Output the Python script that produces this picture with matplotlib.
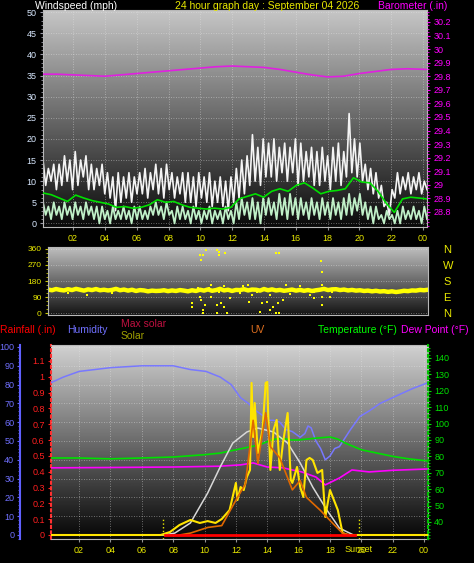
import numpy as np
import matplotlib
matplotlib.use('Agg')
import matplotlib.pyplot as plt
from matplotlib.ticker import MultipleLocator

plt.rcParams['font.family'] = ['Liberation Sans', 'DejaVu Sans']

hour_ticks = [2, 4, 6, 8, 10, 12, 14, 16, 18, 20, 22, 24]
hour_labels = ['02', '04', '06', '08', '10', '12', '14', '16', '18', '20', '22', '00']

# wind (mph), 10 minute readings
gust = [15, 9, 13, 10, 14, 8, 14, 9, 16, 10, 15, 8,
        17, 9, 15, 11, 16, 8, 14, 8, 13, 9, 14, 7,
        12, 6, 11, 3, 12, 5, 11, 6, 12, 5, 11, 7,
        12, 7, 13, 6, 12, 8, 14, 7, 13, 6, 14, 8,
        12, 6, 11, 7, 12, 5, 12, 5, 11, 4, 12, 6,
        11, 5, 12, 4, 10, 5, 11, 4, 10, 3, 11, 5,
        13, 6, 15, 7, 16, 9, 21, 10, 18, 9, 20, 11,
        19, 11, 20, 10, 18, 12, 19, 10, 18, 12, 20, 9,
        19, 10, 17, 11, 18, 9, 17, 9, 18, 10, 16, 8,
        18, 10, 19, 9, 17, 11, 26, 12, 20, 11, 19, 10,
        14, 8, 13, 7, 12, 6, 9, 4, 5, 2, 8, 6,
        12, 7, 11, 8, 12, 7, 11, 8, 12, 7, 10, 8]
speed = [5, 2, 4, 1, 5, 2, 4, 1, 5, 2, 4, 1,
         5, 2, 4, 1, 5, 2, 4, 1, 4, 0, 4, 1,
         3, 0, 4, 1, 3, 1, 4, 1, 3, 0, 4, 1,
         4, 1, 3, 1, 4, 2, 5, 2, 4, 1, 5, 2,
         3, 0, 4, 1, 4, 1, 3, 0, 4, 1, 3, 0,
         3, 1, 4, 0, 3, 1, 3, 0, 4, 1, 3, 0,
         5, 1, 6, 2, 5, 1, 6, 1, 5, 0, 6, 2,
         6, 2, 5, 1, 7, 2, 6, 1, 7, 2, 6, 1,
         6, 2, 5, 1, 6, 2, 5, 1, 6, 2, 5, 1,
         6, 2, 5, 1, 6, 2, 7, 2, 6, 3, 7, 2,
         5, 1, 4, 0, 4, 1, 2, 0, 3, 1, 2, 0,
         3, 0, 4, 1, 3, 1, 4, 1, 3, 0, 4, 1]
avg_wind = [7.2, 6.8, 6.0, 5.2, 6.7, 6.0, 5.4, 5.0, 4.6, 3.8, 4.0, 3.6,
            3.8, 4.4, 5.6, 5.0, 5.2, 4.4, 3.8, 3.6, 3.4, 3.6, 3.4, 3.8,
            5.8, 6.4, 7.0, 6.2, 7.6, 8.2, 7.6, 9.0, 9.6, 8.4, 7.0, 7.6,
            7.8, 8.2, 10.8, 9.8, 9.6, 7.6, 4.8, 2.6, 5.8, 6.2, 6.0, 5.8]
baro_t = [0.11, 1, 2, 3, 4, 5, 6, 7, 8, 9, 10, 11, 12, 13, 14, 15, 16, 17,
          18, 19, 20, 21, 22, 23, 24.25]
baro = [29.815, 29.815, 29.81, 29.805, 29.80, 29.81, 29.82, 29.83, 29.84,
        29.85, 29.86, 29.87, 29.875, 29.87, 29.865, 29.85, 29.83, 29.81,
        29.795, 29.80, 29.82, 29.835, 29.85, 29.855, 29.85]

# wind direction (degrees), 15 minute readings + stray readings
wdir = [132, 128, 135, 130, 127, 134, 129, 136, 131, 126, 133, 129, 135, 128, 131, 127,
        130, 136, 128, 132, 126, 131, 124, 129, 127, 122, 126, 124, 125, 128, 123, 127,
        124, 129, 126, 122, 128, 124, 131, 126, 133, 125, 129, 136, 127, 131, 124, 130,
        129, 134, 127, 132, 131, 126, 135, 128, 133, 127, 130, 125, 128, 132, 126, 130,
        125, 129, 124, 128, 131, 136, 129, 133, 134, 129, 132, 127, 130, 126, 128, 124,
        126, 122, 125, 121, 123, 119, 122, 118, 121, 125, 123, 127, 126, 130, 128, 131]
stray_t = [9.9, 10.0, 10.1, 10.3, 11.0, 11.1, 11.5, 11.1, 14.7, 14.9, 17.5, 17.6,
           17.6, 17.6, 17.6, 18.1, 17.1, 9.4, 9.4, 9.9, 10.0, 10.1, 10.1, 10.2,
           10.6, 11.0, 11.0, 11.2, 11.4, 11.6, 11.8, 11.1, 10.5, 9.8, 12.0, 12.4,
           13.0, 13.7, 13.8, 14.1, 14.3, 14.5, 14.7, 14.9, 14.8, 15.1, 14.3, 13.5,
           2.8, 4.4, 1.6, 18.2, 17.1, 12.6, 13.2, 15.6, 16.2, 16.8, 12.9, 15.3,
           10.6, 11.4]
stray_dir = [326, 298, 326, 354, 354, 343, 337, 326, 337, 337, 292, 230,
             157, 45, 90, 90, 84, 56, 34, 90, 73, 17, 0, 45,
             90, 45, 0, 56, 34, 0, 84, 118, 140, 140, 129, 112,
             62, 6, 56, 62, 17, 34, 0, 0, 56, 73, 101, 118,
             101, 112, 112, 118, 118, 150, 100, 105, 150, 100, 155, 160,
             160, 150]

# humidity (%)
hum_t = [0.2, 1.0, 2.0, 3.0, 4.0, 6.0, 8.0, 9.1, 10.1, 11.0, 11.7, 12.3, 12.8,
         13.3, 13.8, 14.1, 14.4, 14.8, 15.2, 15.6, 16.1, 16.4, 16.6, 16.8, 17.1,
         17.4, 17.7, 18.0, 18.3, 18.6, 19.3, 19.9, 20.5, 21.2, 22.5, 23.3, 24.25]
hum = [81, 84, 87, 88, 89, 90, 90, 88, 87, 84, 80, 73, 70,
       66, 63, 61, 61, 60, 56, 55, 52, 54, 58, 57, 50,
       46, 40, 42, 46, 47, 56, 63, 66, 70, 75, 78, 81]

# temperature and dew point (F)
temp_t = [0.2, 2, 4, 6, 8, 10, 11, 12, 13, 13.5, 14, 14.5, 15, 15.5, 16, 17,
          18, 18.5, 19, 20, 21, 22, 23, 24.25]
temp = [79, 79, 78.5, 79, 79.6, 81, 82, 84, 86, 87, 89, 90.5, 91, 90, 90, 91,
        91.8, 90.5, 88, 84, 82, 80, 78.5, 77.2]
dew_t = [0.2, 4, 8, 11, 12.3, 13.1, 14, 15, 15.6, 16.2, 17.1, 17.7, 18.6, 19.4,
         20.5, 22, 24.25]
dew = [73, 73.2, 73.5, 74, 74.8, 76, 73.5, 73, 71.7, 70.5, 67.4, 62.6, 66.8,
       71.7, 70.5, 71.5, 72.3]

# solar (W/m2), max solar, UV index, rainfall
msol_t = [0.2, 7.4, 8.1, 9.1, 10.2, 11.0, 11.8, 12.7, 13.4, 14.4, 15.3, 16.1,
          16.9, 17.8, 18.6, 19.5, 24.25]
msol = [0, 0, 10, 64, 223, 362, 489, 548, 569, 548, 489, 383, 255, 133, 37, 0, 0]
sol_t = [0.2, 7.2, 7.8, 8.4, 9.1, 9.7, 10.2, 10.7, 11.1, 11.6, 12.0, 12.1, 12.3,
         12.5, 12.7, 12.9, 13.0, 13.1, 13.2, 13.4, 13.7, 13.9, 14.0, 14.05, 14.2,
         14.4, 14.6, 14.8, 15.0, 15.3, 15.5, 15.6, 15.9, 16.1, 16.3, 16.5, 16.7,
         16.9, 17.2, 17.5, 17.7, 18.0, 18.5, 18.8, 19.1, 24.25]
sol = [0, 0, 16, 53, 80, 64, 74, 64, 85, 133, 277, 186, 255,
       239, 309, 346, 809, 521, 702, 436, 559, 809, 814, 665, 346,
       559, 612, 346, 489, 649, 293, 277, 362, 255, 202, 399, 410,
       399, 330, 346, 96, 239, 133, 11, 0, 0]
uv_t = [8.4, 9.1, 10.2, 11.1, 12.1, 12.6, 13.1, 13.4, 13.9, 14.2, 14.8, 15.6,
        16.1, 16.5, 17.4, 18.2, 18.8, 19.3]
uv = [0, 0.1, 0.4, 0.5, 2.0, 2.7, 6.1, 3.8, 6.5, 4.7, 4.1, 2.4, 2.9, 2.0, 1.3,
      0.6, 0.1, 0]
rain_t = [7.5, 19.6]
rain = [0.0, 0.0]
sunrise = 7.35
sunset = 19.85

YEL = '#e8e800'

fig = plt.figure(figsize=(4.74, 5.63), dpi=100, facecolor='black')


def box(x0, y0, x1, y1):
    return fig.add_axes([x0 / 474, 1 - y1 / 563, (x1 - x0) / 474, (y1 - y0) / 563])


def shade(ax, top, bottom):
    g = np.linspace(top, bottom, 256).reshape(-1, 1)
    ax.imshow(g, cmap='gray', vmin=0, vmax=1, aspect='auto',
              extent=[0, 1, 0, 1], transform=ax.transAxes, zorder=0)


def fmt(v):
    return f'{round(v, 2):g}'


GRID = dict(color='#e8e8e8', linestyle=(0, (1, 2)), linewidth=0.6, alpha=0.55)

# ---- wind speed / barometer ----
ax1 = box(43, 10, 427, 227)
shade(ax1, 0.78, 0.04)
t10 = np.linspace(0.11, 24.25, len(gust))
t30 = np.linspace(0.11, 24.25, len(avg_wind))
ax1.plot(t10, gust, color='#f4f4f4', lw=1.2, zorder=2)
ax1.plot(t10, speed, color='#c0f0c8', lw=1.3, zorder=2)
ax1.plot(t30, avg_wind, color='#00e000', lw=1.2, zorder=3)
ax1.set_xlim(0.11, 24.25)
ax1.set_ylim(-0.85, 50.5)
ax1.set_xticks(hour_ticks)
ax1.set_xticklabels(hour_labels)
ax1.yaxis.set_major_locator(MultipleLocator(5))
ax1.yaxis.set_minor_locator(MultipleLocator(1))
ax1.tick_params(axis='y', which='both', colors='#9a9aa8', labelcolor='#d8e8ff',
                labelsize=6.5, length=2.5, pad=2)
ax1.tick_params(axis='y', which='minor', length=1.5)
ax1.tick_params(axis='x', colors='#909090', labelcolor=YEL, labelsize=6.5,
                length=2, pad=3)
ax1.grid(True, **GRID)
for s in ax1.spines.values():
    s.set_color('#b8b8b8')

ax1b = ax1.twinx()
ax1b.plot(baro_t, baro, color='#e020e0', lw=1.2)
ax1b.set_ylim(28.689, 30.288)
bt = [28.8 + 0.1 * i for i in range(15)]
ax1b.set_yticks(bt)
ax1b.set_yticklabels([fmt(v) for v in bt])
ax1b.yaxis.set_minor_locator(MultipleLocator(0.025))
ax1b.tick_params(axis='y', which='both', colors='#ff00ff', labelsize=6.5,
                 length=2.5, pad=2)
ax1b.tick_params(axis='y', which='minor', length=1.5)
for s in ax1b.spines.values():
    s.set_visible(False)

fig.text(35 / 474, 1 - 6 / 563, 'Windspeed (mph)', color='white', fontsize=7.5, va='center')
fig.text(175 / 474, 1 - 6 / 563, '24 hour graph day : September 04 2026', color=YEL,
         fontsize=7.5, va='center')
fig.text(378 / 474, 1 - 6 / 563, 'Barometer (.in)', color='#ff00ff', fontsize=7.5, va='center')

# ---- wind direction ----
ax2 = box(48, 247, 428, 315)
shade(ax2, 0.76, 0.08)
td = np.linspace(0.35, 24.25, len(wdir))
ax2.plot(td, wdir, color='#ffff00', lw=3.2, zorder=2)
ax2.scatter(stray_t, stray_dir, s=3, marker='s', color='#ffff00', linewidths=0, zorder=3)
ax2.set_xlim(0.35, 24.25)
ax2.set_ylim(-11, 371)
ax2.set_xticks([])
ax2.set_yticks([0, 90, 180, 270, 360])
ax2.yaxis.set_minor_locator(MultipleLocator(22.5))
ax2.tick_params(axis='y', which='both', colors='#c8c800', labelcolor=YEL,
                labelsize=6, length=2.5, pad=2)
ax2.tick_params(axis='y', which='minor', length=1.5)
ax2.grid(True, axis='y', **GRID)
for s in ax2.spines.values():
    s.set_color('#b8b8b8')
ax2r = ax2.twinx()
ax2r.set_ylim(-11, 371)
ax2r.set_yticks([0, 90, 180, 270, 360])
ax2r.set_yticklabels(['N', 'E', 'S', 'W', 'N'])
ax2r.tick_params(axis='y', colors=YEL, labelsize=8, length=0, pad=11)
for s in ax2r.spines.values():
    s.set_visible(False)

# ---- rain / humidity / solar / temperature ----
ax3 = box(51, 345, 428, 539)
shade(ax3, 0.82, 0.02)
ax3.set_xlim(0.21, 24.25)
ax3.set_ylim(-0.0253, 1.201)
ax3.set_xticks(hour_ticks)
ax3.set_xticklabels(hour_labels)
rt = [0.1 * i for i in range(12)]
ax3.set_yticks(rt)
ax3.set_yticklabels([fmt(v) for v in rt])
ax3.tick_params(axis='y', colors='#ff2020', labelsize=6.5, length=2.5, pad=2)
ax3.tick_params(axis='x', colors='#909090', labelcolor=YEL, labelsize=6.5,
                length=2, pad=3)
ax3.grid(True, axis='x', **GRID)
for s in ax3.spines.values():
    s.set_color('#b8b8b8')
ax3.spines['left'].set_color('#ff3030')
ax3.spines['left'].set_linestyle(':')
ax3.spines['left'].set_linewidth(1.5)

axH = ax3.twinx()
axH.yaxis.set_ticks_position('left')
axH.spines['left'].set_position(('outward', 22))
axH.spines['left'].set_visible(True)
axH.spines['left'].set_color('#6060ff')
axH.spines['left'].set_linewidth(1.5)
for k in ['right', 'top', 'bottom']:
    axH.spines[k].set_visible(False)
axH.plot(hum_t, hum, color='#7878ff', lw=1.1)
axH.set_ylim(-2.13, 101.06)
axH.yaxis.set_major_locator(MultipleLocator(10))
axH.yaxis.set_minor_locator(MultipleLocator(2))
axH.tick_params(axis='y', which='both', colors='#6060ff', labelcolor='#7070ff',
                labelsize=6.5, length=2.5, pad=2)
axH.tick_params(axis='y', which='minor', length=1.5)
axH.grid(True, axis='y', **GRID)

axT = ax3.twinx()
axT.plot(temp_t, temp, color='#00e000', lw=1.2)
axT.plot(dew_t, dew, color='#ff00ff', lw=1.2)
axT.set_ylim(29.6, 147.9)
axT.yaxis.set_minor_locator(MultipleLocator(2))
axT.set_yticks([40 + 10 * i for i in range(11)])
axT.tick_params(axis='y', which='both', colors='#00e000', labelsize=6.5,
                length=2.5, pad=2)
axT.tick_params(axis='y', which='minor', length=1.5)
for k in ['left', 'top', 'bottom']:
    axT.spines[k].set_visible(False)
axT.spines['right'].set_color('#00c000')
axT.spines['right'].set_linestyle(':')
axT.spines['right'].set_linewidth(1.5)

axS = ax3.twinx()
axS.plot(msol_t, msol, color='#d8d8d8', lw=1.1)
axS.plot(sol_t, sol, color='#ffe400', lw=1.5)
axS.set_ylim(-21.3, 1010.6)
axS.axis('off')

axU = ax3.twinx()
axU.plot(uv_t, uv, color='#e06800', lw=1.2)
axU.set_ylim(-0.213, 10.106)
axU.axis('off')

axR = ax3.twinx()
axR.plot(rain_t, rain, color='#ff0000', lw=2)
axR.vlines([sunrise, sunset], -0.0253, 0.1, colors=YEL, linestyles=':', lw=1)
axR.set_ylim(-0.0253, 1.201)
axR.axis('off')
ax3.text(sunset, -0.052, 'Sunset', transform=ax3.get_xaxis_transform(), color=YEL,
         fontsize=6.5, ha='center', va='center')

hy = 1 - 330 / 563
fig.text(0, hy, 'Rainfall (.in)', color='#ff0000', fontsize=7.5, va='center')
fig.text(67 / 474, hy, 'Humidity', color='#7070ff', fontsize=7.5, va='center')
fig.text(121 / 474, 1 - 324 / 563, 'Max solar', color='#c01040', fontsize=7.5, va='center')
fig.text(121 / 474, 1 - 336 / 563, 'Solar', color='#a0a000', fontsize=7.5, va='center')
fig.text(250 / 474, hy, 'UV', color='#e07020', fontsize=7.5, va='center')
fig.text(318 / 474, hy, 'Temperature (°F)', color='#00ff00', fontsize=7.5, va='center')
fig.text(401 / 474, hy, 'Dew Point (°F)', color='#ff00ff', fontsize=7.5, va='center')

fig.savefig('out.png', dpi=100, facecolor='black')
